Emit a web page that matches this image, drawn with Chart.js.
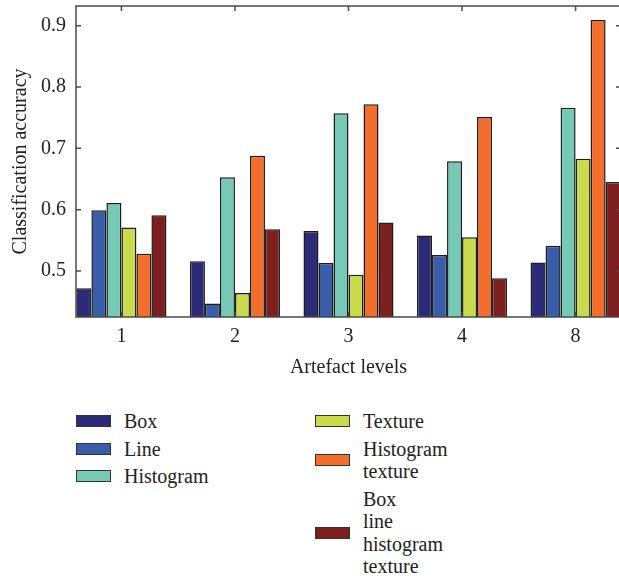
<!DOCTYPE html>
<html>
<head>
<meta charset="utf-8">
<script src="https://cdn.jsdelivr.net/npm/chart.js@4.4.1/dist/chart.umd.min.js"></script>
<style>
  html, body { margin: 0; padding: 0; background: #fff; overflow: hidden; width: 619px; height: 578px; }
  #wrap { position: absolute; left: 0; top: 0; width: 632px; height: 384px; }
  .legend { position: absolute; top: 410px; font-family: "Liberation Serif", serif; font-size: 20px; color: #222; }
  .item { display: flex; align-items: center; margin-bottom: 5px; line-height: 22.5px; white-space: pre-line; }
  .sw { width: 33px; height: 10px; border: 1px solid #333; margin-right: 13px; flex: none; }
</style>
</head>
<body>
<div id="wrap"><canvas id="accChart"></canvas></div>
<div class="legend" id="legLeft" style="left:76px"></div>
<div class="legend" id="legRight" style="left:315px"></div>
<script>
// data
const categories = ["1", "2", "3", "4", "8"];
const seriesNames = ["Box", "Line", "Histogram", "Texture", "Histogram\ntexture", "Box\nline\nhistogram\ntexture"];
const seriesColors = ["#2d2a78", "#3a5daa", "#76cab5", "#c9db4b", "#f36d2b", "#7e1f1f"];
const boxAcc = [0.472, 0.516, 0.565, 0.558, 0.514];
const lineAcc = [0.599, 0.447, 0.513, 0.526, 0.541];
const histAcc = [0.611, 0.653, 0.757, 0.679, 0.766];
const textureAcc = [0.571, 0.464, 0.494, 0.555, 0.683];
const histTexAcc = [0.528, 0.688, 0.772, 0.751, 0.909];
const allAcc = [0.591, 0.568, 0.579, 0.488, 0.645];
const yTicks = [0.5, 0.6, 0.7, 0.8, 0.9];

const yMin = 0.425;
const yMax = 0.932;
const font = { family: "'Liberation Serif', serif", size: 20 };
const textColor = "#222";

const allSeries = [boxAcc, lineAcc, histAcc, textureAcc, histTexAcc, allAcc];

// matlab style box with inward ticks
const framePlugin = {
  id: "frame",
  afterDatasetsDraw(chart) {
    const { ctx, chartArea, scales } = chart;
    const { left, right, top, bottom } = chartArea;
    ctx.save();
    ctx.strokeStyle = "#4a4a4a";
    ctx.lineWidth = 1.5;
    ctx.strokeRect(left, top, right - left, bottom - top);
    ctx.beginPath();
    scales.x.ticks.forEach((t, i) => {
      const px = scales.x.getPixelForTick(i);
      ctx.moveTo(px, top); ctx.lineTo(px, top + 5);
      ctx.moveTo(px, bottom); ctx.lineTo(px, bottom - 5);
    });
    scales.y.ticks.forEach((t, i) => {
      const py = scales.y.getPixelForTick(i);
      ctx.moveTo(left, py); ctx.lineTo(left + 5, py);
      ctx.moveTo(right, py); ctx.lineTo(right - 5, py);
    });
    ctx.stroke();
    ctx.restore();
  }
};

const datasets = allSeries.map((vals, k) => ({
  label: seriesNames[k],
  data: vals.map((v, i) => ({ x: i + 1, y: v })),
  backgroundColor: seriesColors[k],
  borderColor: "#1c1c1c",
  borderWidth: 1.5,
  base: yMin
}));

new Chart(document.getElementById("accChart"), {
  type: "bar",
  data: { datasets: datasets },
  plugins: [framePlugin],
  options: {
    responsive: true,
    maintainAspectRatio: false,
    animation: false,
    layout: { padding: { top: 6, right: 11, left: 0, bottom: 0 } },
    plugins: { legend: { display: false }, tooltip: { enabled: false } },
    datasets: { bar: { categoryPercentage: 0.793, barPercentage: 1 } },
    scales: {
      x: {
        type: "linear",
        offset: false,
        min: 0.6,
        max: 5.4,
        afterBuildTicks: (s) => { s.ticks = categories.map((c, i) => ({ value: i + 1 })); },
        ticks: { callback: (v) => categories[v - 1], font: font, color: textColor, padding: 8, maxRotation: 0 },
        grid: { display: false, drawTicks: false, offset: false },
        border: { display: false },
        title: { display: true, text: "Artefact levels", font: font, color: textColor, padding: { top: 4, bottom: 4 } },
        afterFit: (s) => { s.height = 384 - 317; s.paddingLeft = 0; s.paddingRight = 0; }
      },
      y: {
        min: yMin,
        max: yMax,
        afterBuildTicks: (s) => { s.ticks = yTicks.map((v) => ({ value: v })); },
        ticks: { callback: (v) => v.toFixed(1), font: font, color: textColor, padding: 10 },
        grid: { display: false, drawTicks: false },
        border: { display: false },
        title: { display: true, text: "Classification accuracy", font: font, color: textColor, padding: { top: 9, bottom: 0 } },
        afterFit: (s) => { s.width = 76; s.paddingTop = 0; s.paddingBottom = 0; }
      }
    }
  }
});

// legend in two columns like the figure
function addItem(parent, k) {
  const row = document.createElement("div");
  row.className = "item";
  const sw = document.createElement("span");
  sw.className = "sw";
  sw.style.background = seriesColors[k];
  const txt = document.createElement("span");
  txt.textContent = seriesNames[k];
  row.appendChild(sw);
  row.appendChild(txt);
  parent.appendChild(row);
}
[0, 1, 2].forEach((k) => addItem(document.getElementById("legLeft"), k));
[3, 4, 5].forEach((k) => addItem(document.getElementById("legRight"), k));
</script>
</body>
</html>
